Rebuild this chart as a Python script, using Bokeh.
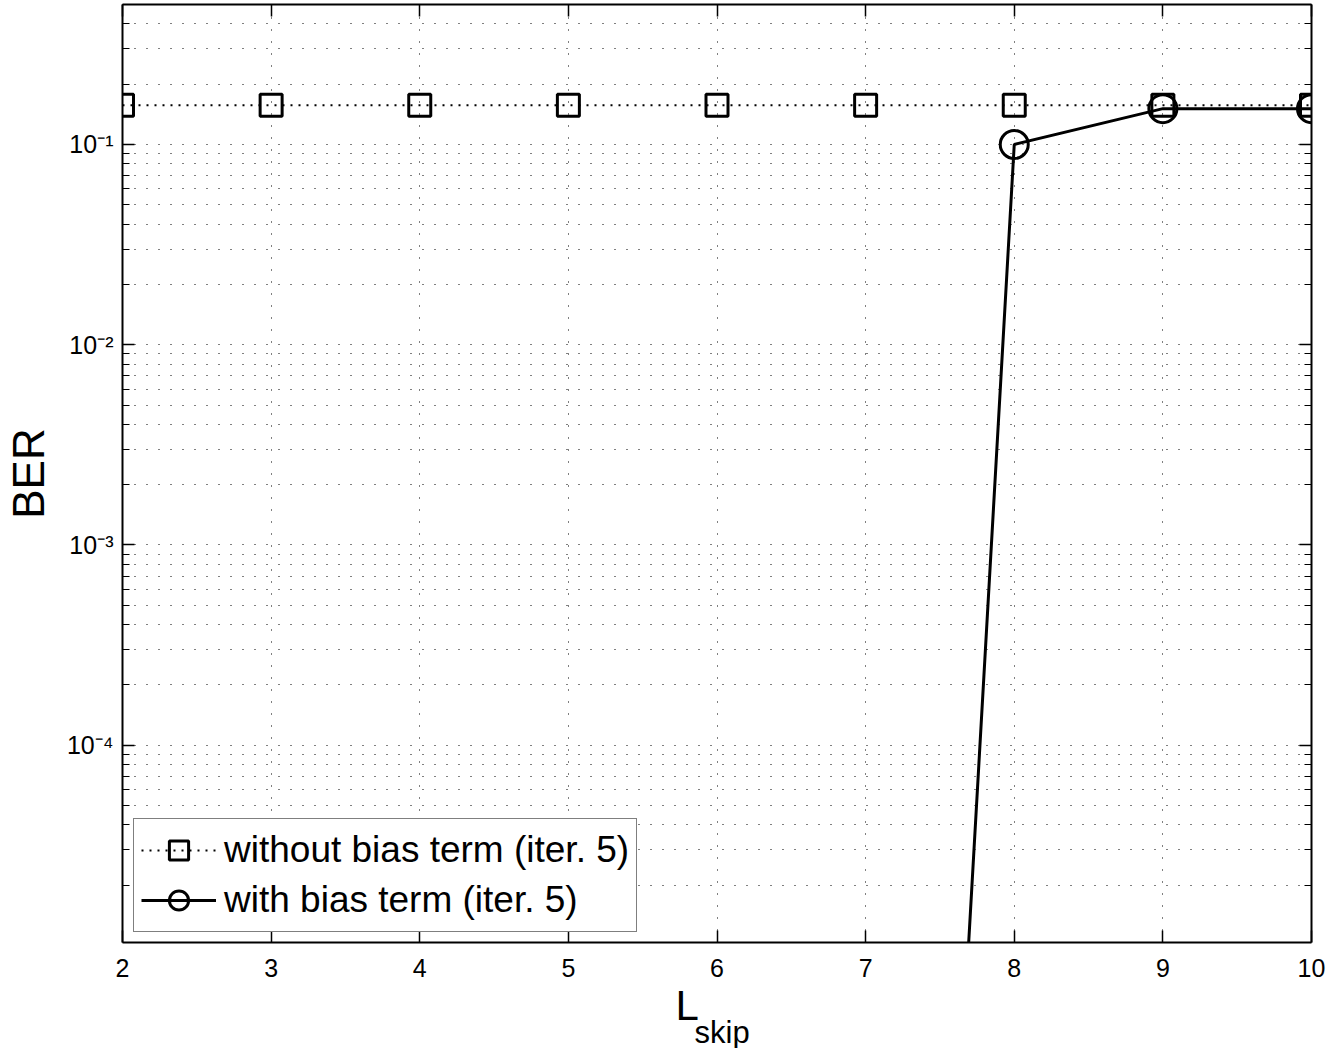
from bokeh.plotting import figure
from bokeh.models import (FixedTicker, LinearAxis, LogAxis, Title,
                          Legend, LegendItem, Range1d, CustomJSTickFormatter)
from bokeh.embed import file_html
from bokeh.resources import INLINE

# ---- data ----
x_skip = [2, 3, 4, 5, 6, 7, 8, 9, 10]
ber_without_bias = [0.157, 0.157, 0.157, 0.157, 0.157, 0.157, 0.157, 0.157, 0.157]
x_bias = [7, 8, 9, 10]
ber_with_bias = [1e-14, 0.1, 0.151, 0.151]

x_ticks = [2, 3, 4, 5, 6, 7, 8, 9, 10]
y_major = [1e-5, 1e-4, 1e-3, 1e-2, 1e-1, 1.0]
y_labeled = [1e-4, 1e-3, 1e-2, 1e-1]
y_tick_labels = ["10\u207b\u2074", "10\u207b\u00b3", "10\u207b\u00b2", "10\u207b\u00b9"]
y_minor = [k * 10.0 ** e for e in range(-6, 0) for k in range(2, 10)]

FONT = "Liberation Sans"

p = figure(width=1327, height=1048, y_axis_type="log",
           x_range=Range1d(2, 10), y_range=Range1d(1.035e-5, 0.5),
           output_backend="svg", toolbar_location=None,
           min_border_left=121, min_border_right=16,
           min_border_top=4, min_border_bottom=106)
p.outline_line_color = None
p.background_fill_color = "white"
p.border_fill_color = "white"

xt = FixedTicker(ticks=x_ticks, minor_ticks=[])
yt = FixedTicker(ticks=y_major, minor_ticks=y_minor)
blank = CustomJSTickFormatter(code="return ''")

def style_axis(ax, show_labels):
    ax.axis_line_color = "black"
    ax.axis_line_width = 2
    ax.major_tick_line_color = "black"
    ax.major_tick_line_width = 1.5
    ax.minor_tick_line_color = "black"
    ax.minor_tick_line_width = 1.2
    ax.major_tick_in = 12
    ax.major_tick_out = 0
    ax.minor_tick_in = 7
    ax.minor_tick_out = 0
    ax.major_label_text_font = FONT
    ax.major_label_text_color = "black"
    if not show_labels:
        ax.formatter = blank
        ax.major_label_standoff = 0

# bottom x axis
p.xaxis.ticker = xt
style_axis(p.xaxis[0], True)
p.xaxis.major_label_text_font_size = "25px"
p.xaxis.major_label_standoff = 16

# left y axis with 10^n labels
p.yaxis.ticker = yt
style_axis(p.yaxis[0], True)
p.yaxis.formatter = CustomJSTickFormatter(
    args=dict(vals=y_labeled, labels=y_tick_labels),
    code="""
    for (let i = 0; i < vals.length; i++) {
        if (Math.abs(Math.log10(vals[i]) - Math.log10(tick)) < 1e-6) return labels[i];
    }
    return '';
    """)
p.yaxis.major_label_text_font_size = "25px"
p.yaxis.major_label_standoff = 9
p.yaxis.axis_label = "BER"
p.yaxis.axis_label_text_font = FONT
p.yaxis.axis_label_text_font_size = "44px"
p.yaxis.axis_label_text_font_style = "normal"
p.yaxis.axis_label_text_color = "black"
p.yaxis.axis_label_standoff = 11

top = LinearAxis(ticker=FixedTicker(ticks=x_ticks, minor_ticks=[]))
style_axis(top, False)
p.add_layout(top, "above")
right = LogAxis(ticker=FixedTicker(ticks=y_major, minor_ticks=y_minor))
style_axis(right, False)
p.add_layout(right, "right")

# x axis title: L with subscript "skip"
p.add_layout(Title(text="L", align="left", offset=553, vertical_align="middle",
                   standoff=3, text_font=FONT, text_font_size="42px",
                   text_font_style="normal", text_color="black"), "below")
p.add_layout(Title(text="skip", align="left", offset=572, vertical_align="middle",
                   standoff=-35, text_font=FONT, text_font_size="31px",
                   text_font_style="normal", text_color="black"), "below")

# grid
p.xgrid.ticker = xt
p.ygrid.ticker = yt
for g in (p.xgrid, p.ygrid):
    g.grid_line_color = "black"
    g.grid_line_dash = "1 11"
    g.grid_line_width = 1
p.ygrid.minor_grid_line_color = "black"
p.ygrid.minor_grid_line_dash = "1 11"
p.ygrid.minor_grid_line_width = 1

# series
l1 = p.line(x_skip, ber_without_bias, line_color="black", line_width=2, line_dash="2 6")
s1 = p.scatter(x_skip, ber_without_bias, marker="square", size=22,
               fill_color=None, line_color="black", line_width=3)
l2 = p.line(x_bias, ber_with_bias, line_color="black", line_width=3)
s2 = p.scatter(x_bias, ber_with_bias, marker="circle", size=28,
               fill_color=None, line_color="black", line_width=3)

legend = Legend(items=[
    LegendItem(label="without bias term (iter. 5)", renderers=[l1, s1]),
    LegendItem(label="with bias term (iter. 5)", renderers=[l2, s2]),
], location=(11, 10))
legend.label_text_font = FONT
legend.label_text_font_size = "37px"
legend.label_text_color = "black"
legend.glyph_width = 75
legend.glyph_height = 48
legend.label_standoff = 8
legend.padding = 7
legend.spacing = 2
legend.margin = 0
legend.border_line_color = "black"
legend.border_line_width = 1.5
legend.background_fill_color = "white"
legend.background_fill_alpha = 1
p.add_layout(legend, "center")

open("out.html", "w").write(file_html(p, INLINE))
